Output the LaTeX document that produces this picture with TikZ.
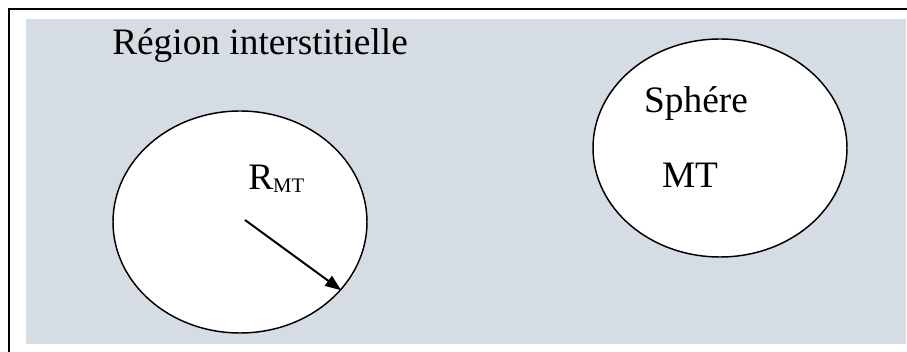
\documentclass[tikz,border=0pt]{standalone}
\usepackage{fontspec}
\setmainfont{Liberation Serif}
\usetikzlibrary{shapes.geometric,arrows.meta}
\definecolor{regionfill}{RGB}{213,220,228}
\begin{document}
\begin{tikzpicture}[x=0.75pt,y=-0.75pt,
  sphere/.style={draw=black, line width=1.1pt, fill=white, ellipse, inner sep=0pt},
  lbl/.style={font=\fontsize{28}{32}\selectfont, inner sep=0pt},
  radius arrow/.style={line width=1.5pt, -{Triangle[length=12pt,width=9pt]}}]
\useasboundingbox (0,0) rectangle (907,352);
% page background and outer frame
\fill[white] (0,0) rectangle (907,352);
\draw[line width=1.5pt] (9,360) -- (9,9) -- (915,9);
% interstitial region
\fill[regionfill] (26,19) rectangle (906,344);
% muffin-tin spheres
\node[sphere, minimum width=190.5pt, minimum height=166.5pt] (s1) at (240,222) {};
\node[sphere, minimum width=190.5pt, minimum height=163.5pt] (s2) at (720,148) {};
% labels
\node[lbl, anchor=base west] (region) at (112,55) {Région interstitielle};
\node[lbl, anchor=base] (sph) at (696,113) {Sphére};
\node[lbl, anchor=base] (mt) at (690,188) {MT};
\node[lbl, anchor=base west] (rmt) at (248,190) {R\raisebox{-2.25pt}{\fontsize{15.5}{18}\selectfont MT}};
% radius of the sphere
\draw[radius arrow] ([shift={(5,-2)}]s1.center) -- (s1.-34);
\end{tikzpicture}
\end{document}
